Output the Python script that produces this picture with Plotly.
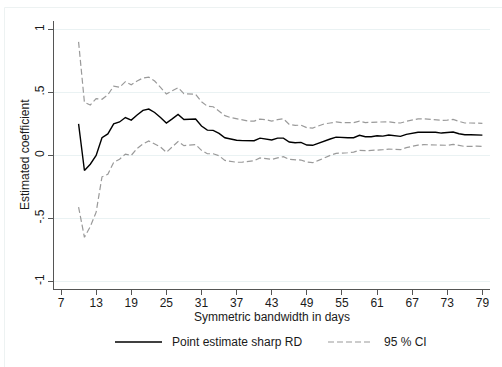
import plotly.graph_objects as go

bandwidth = list(range(10, 80))

point_est = [0.25, -0.12, -0.07, 0.0, 0.14, 0.17, 0.25, 0.265, 0.30, 0.28,
             0.32, 0.357, 0.367, 0.34, 0.30, 0.257, 0.29, 0.325, 0.285, 0.285,
             0.288, 0.233, 0.20, 0.198, 0.175, 0.14, 0.13, 0.12, 0.117, 0.114,
             0.116, 0.137, 0.13, 0.122, 0.137, 0.137, 0.106, 0.10, 0.103, 0.082,
             0.08, 0.098, 0.116, 0.13, 0.145, 0.14, 0.14, 0.14, 0.159, 0.148,
             0.148, 0.156, 0.153, 0.161, 0.153, 0.151, 0.167, 0.175, 0.183, 0.183,
             0.183, 0.183, 0.177, 0.18, 0.185, 0.172, 0.164, 0.164, 0.164, 0.161]

ci_upper = [0.90, 0.42, 0.40, 0.45, 0.445, 0.48, 0.55, 0.54, 0.585, 0.56,
            0.59, 0.614, 0.62, 0.59, 0.54, 0.487, 0.513, 0.537, 0.49, 0.487,
            0.484, 0.426, 0.39, 0.386, 0.35, 0.315, 0.30, 0.29, 0.278, 0.272,
            0.272, 0.288, 0.283, 0.272, 0.283, 0.29, 0.246, 0.238, 0.24, 0.22,
            0.217, 0.235, 0.25, 0.257, 0.265, 0.26, 0.26, 0.26, 0.272, 0.26,
            0.262, 0.262, 0.262, 0.267, 0.26, 0.257, 0.27, 0.28, 0.29, 0.29,
            0.285, 0.285, 0.278, 0.28, 0.285, 0.27, 0.257, 0.257, 0.254, 0.254]

ci_lower = [-0.41, -0.65, -0.565, -0.45, -0.17, -0.15, -0.055, -0.03, 0.01, 0.0,
            0.055, 0.09, 0.114, 0.087, 0.066, 0.024, 0.069, 0.11, 0.077, 0.08,
            0.085, 0.04, 0.013, 0.013, -0.003, -0.04, -0.048, -0.055, -0.053, -0.048,
            -0.042, -0.02, -0.024, -0.032, -0.02, -0.01, -0.032, -0.037, -0.037, -0.053,
            -0.058, -0.04, -0.018, 0.0, 0.016, 0.016, 0.021, 0.026, 0.04, 0.037,
            0.037, 0.042, 0.045, 0.05, 0.048, 0.045, 0.061, 0.071, 0.082, 0.085,
            0.085, 0.085, 0.08, 0.08, 0.087, 0.077, 0.071, 0.071, 0.074, 0.071]

x_ticks = list(range(7, 80, 6))
y_ticks = [-1, -0.5, 0, 0.5, 1]
y_tick_labels = ["-1", "-.5", "0", ".5", "1"]

series_names = ["Point estimate sharp RD", "95 % CI"]

FONT = "Liberation Sans, Arial, sans-serif"
TXT = "#1a1a1a"
CI_COLOR = "#9a9a9a"
DASH = "6px,3px"

fig = go.Figure()
fig.add_trace(go.Scatter(x=bandwidth, y=point_est, mode="lines",
                         name=series_names[0],
                         line=dict(color="black", width=1.4)))
fig.add_trace(go.Scatter(x=bandwidth, y=ci_upper, mode="lines",
                         name=series_names[1],
                         line=dict(color=CI_COLOR, width=1.2, dash=DASH)))
fig.add_trace(go.Scatter(x=bandwidth, y=ci_lower, mode="lines",
                         name=series_names[1],
                         line=dict(color=CI_COLOR, width=1.2, dash=DASH)))

L, R, T, B = 54, 12, 21, 78
W, H = 502, 367
pw, ph = W - L - R, H - T - B

def px(x):
    return (x - L) / pw

def py(y):
    return (H - B - y) / ph

# faint outer graph-region frame
frame = "#edf2f2"
fig.add_shape(type="line", xref="paper", yref="paper", x0=px(4.5), x1=px(502),
              y0=py(7.5), y1=py(7.5), line=dict(color=frame, width=1))
fig.add_shape(type="line", xref="paper", yref="paper", x0=px(4.5), x1=px(4.5),
              y0=py(7.5), y1=py(367), line=dict(color=frame, width=1))

# legend (drawn manually to match key lengths)
leg_y = py(342)
fig.add_shape(type="line", xref="paper", yref="paper", x0=px(115), x1=px(162),
              y0=leg_y, y1=leg_y, line=dict(color="black", width=1.4))
fig.add_shape(type="line", xref="paper", yref="paper", x0=px(328), x1=px(372),
              y0=leg_y, y1=leg_y, line=dict(color=CI_COLOR, width=1.2, dash=DASH))
fig.add_annotation(xref="paper", yref="paper", x=px(170), y=leg_y, xanchor="left",
                   yanchor="middle", text=series_names[0], showarrow=False,
                   font=dict(family=FONT, size=12, color=TXT))
fig.add_annotation(xref="paper", yref="paper", x=px(382), y=leg_y, xanchor="left",
                   yanchor="middle", text=series_names[1], showarrow=False,
                   font=dict(family=FONT, size=12, color=TXT))

# y axis title
fig.add_annotation(xref="paper", yref="paper", x=px(25), y=py(155), xanchor="center",
                   yanchor="middle", text="Estimated coefficient", textangle=-90,
                   showarrow=False, font=dict(family=FONT, size=12, color=TXT))

fig.update_layout(
    width=W, height=H,
    margin=dict(l=L, r=R, t=T, b=B),
    paper_bgcolor="white", plot_bgcolor="white",
    font=dict(family=FONT, size=12, color=TXT),
    showlegend=False,
    xaxis=dict(range=[5.8, 80.3], tickvals=x_ticks, ticks="outside", ticklen=5,
               tickcolor="#555", showline=True, linecolor="#555", linewidth=1,
               showgrid=False, zeroline=False, ticklabelstandoff=-2,
               title=dict(text="Symmetric bandwidth in days", standoff=0,
                          font=dict(size=12))),
    yaxis=dict(range=[-1.06, 1.066], tickvals=y_ticks, ticktext=y_tick_labels,
               tickangle=-90, ticks="outside", ticklen=5, tickcolor="#555",
               showline=True, linecolor="#555", linewidth=1, ticklabelstandoff=-1,
               showgrid=True, gridcolor="#eaf2f3", gridwidth=1, zeroline=False),
)

fig.write_html("out.html")
